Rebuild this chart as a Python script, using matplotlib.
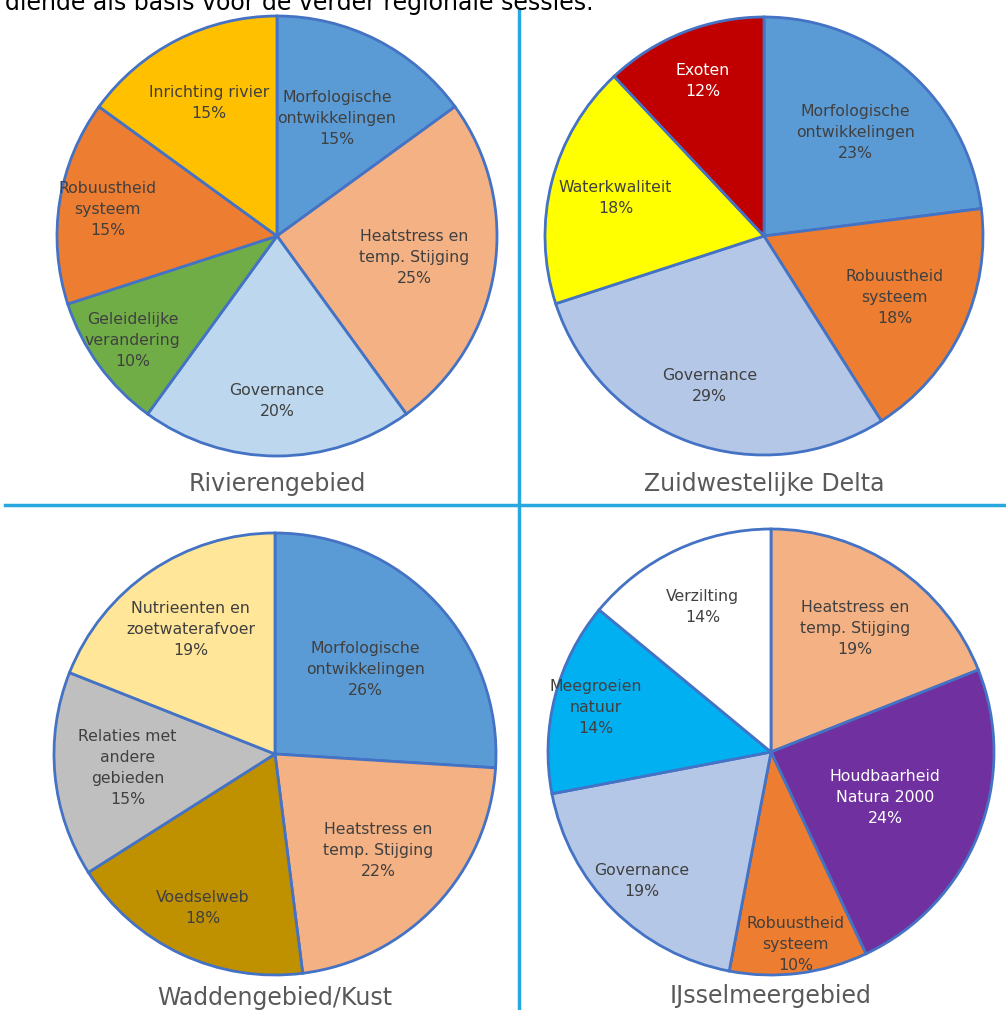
import numpy as np
import matplotlib.pyplot as plt
from matplotlib.lines import Line2D

W, H = 1006, 1010

# data
titles = ["Rivierengebied", "Zuidwestelijke Delta", "Waddengebied/Kust", "IJsselmeergebied"]

riv_names = ["Morfologische\nontwikkelingen", "Heatstress en\ntemp. Stijging", "Governance",
             "Geleidelijke\nverandering", "Robuustheid\nsysteem", "Inrichting rivier"]
riv_values = [15, 25, 20, 10, 15, 15]

zwd_names = ["Morfologische\nontwikkelingen", "Robuustheid\nsysteem", "Governance",
             "Waterkwaliteit", "Exoten"]
zwd_values = [23, 18, 29, 18, 12]

wad_names = ["Morfologische\nontwikkelingen", "Heatstress en\ntemp. Stijging", "Voedselweb",
             "Relaties met\nandere\ngebieden", "Nutrieenten en\nzoetwaterafvoer"]
wad_values = [26, 22, 18, 15, 19]

ijs_names = ["Heatstress en\ntemp. Stijging", "Houdbaarheid\nNatura 2000", "Robuustheid\nsysteem",
             "Governance", "Meegroeien\nnatuur", "Verzilting"]
ijs_values = [19, 24, 10, 19, 14, 14]

# styling
riv_colors = ["#5B9BD5", "#F4B183", "#BDD7EE", "#70AD47", "#ED7D31", "#FFC000"]
zwd_colors = ["#5B9BD5", "#ED7D31", "#B4C7E7", "#FFFF00", "#C00000"]
wad_colors = ["#5B9BD5", "#F4B183", "#BF9000", "#BFBFBF", "#FFE699"]
ijs_colors = ["#F4B183", "#7030A0", "#ED7D31", "#B4C7E7", "#00B0F0", "#FFFFFF"]

riv_dist = [0.6, 0.63, 0.75, 0.81, 0.78, 0.68]
zwd_dist = [0.63, 0.66, 0.73, 0.70, 0.76]
wad_dist = [0.56, 0.64, 0.77, 0.67, 0.68]
ijs_dist = [0.67, 0.55, 0.87, 0.82, 0.81, 0.72]

zwd_txt = ["#404040"] * 4 + ["white"]
ijs_txt = ["#404040", "white", "#404040", "#404040", "#404040", "#404040"]

# pixel centre x, centre y, radius, title y
boxes = [(277, 236, 220, 484), (764, 236, 219, 484),
         (275, 754, 221, 998), (771, 752, 223, 996)]

label_font = ["Liberation Sans Narrow", "DejaVu Sans"]

fig = plt.figure(figsize=(W / 100, H / 100), dpi=100)

pies = [
    (riv_names, riv_values, riv_colors, riv_dist, ["#404040"] * 6),
    (zwd_names, zwd_values, zwd_colors, zwd_dist, zwd_txt),
    (wad_names, wad_values, wad_colors, wad_dist, ["#404040"] * 5),
    (ijs_names, ijs_values, ijs_colors, ijs_dist, ijs_txt),
]

for (names, values, colors, dists, tcolors), (cx, cy, r, ty), title in zip(pies, boxes, titles):
    ax = fig.add_axes([(cx - r) / W, 1 - (cy + r) / H, 2 * r / W, 2 * r / H])
    ax.pie(values, colors=colors, startangle=90, counterclock=False,
           wedgeprops=dict(edgecolor="#4472C4", linewidth=2))
    ang = 90.0
    total = sum(values)
    for name, v, d, tc in zip(names, values, dists, tcolors):
        mid = np.deg2rad(ang - v / total * 180)
        ang -= v / total * 360
        ax.text(d * np.cos(mid), d * np.sin(mid), f"{name}\n{v}%", ha="center", va="center",
                fontsize=11.3, color=tc, family=label_font, linespacing=1.5)
    ax.set_xlim(-1, 1)
    ax.set_ylim(-1, 1)
    ax.set_aspect("auto")
    ax.axis("off")
    fig.text(cx / W, 1 - ty / H, title, ha="center", va="center", fontsize=17,
             color="#595959", family=label_font)

# dividing lines
fig.add_artist(Line2D([519 / W, 519 / W], [0, 1 - 10 / H], color="#29A8E0", lw=2.5))
fig.add_artist(Line2D([5 / W, 1], [1 - 505 / H, 1 - 505 / H], color="#29A8E0", lw=2.5))

fig.text(5 / W, 1 - 10 / H, "diende als basis voor de verder regionale sessies.", ha="left",
         va="baseline", fontsize=17, color="black")

fig.savefig("out.png", dpi=100)
